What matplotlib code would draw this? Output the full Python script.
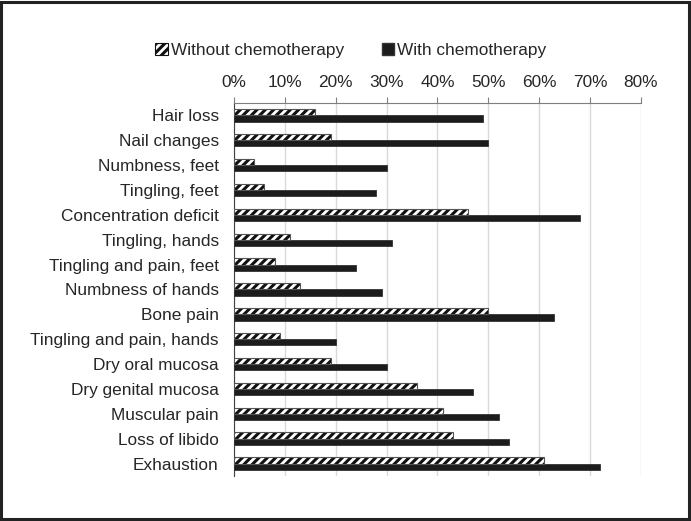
import matplotlib
matplotlib.use('Agg')
import matplotlib.pyplot as plt
import numpy as np
from matplotlib.patches import Rectangle, Patch
from matplotlib.ticker import PercentFormatter

plt.rcParams['font.family'] = ['Liberation Sans', 'DejaVu Sans']
plt.rcParams['font.size'] = 12.4
plt.rcParams['hatch.linewidth'] = 2.2
plt.rcParams['text.color'] = '#262626'

symptoms = ['Hair loss', 'Nail changes', 'Numbness, feet', 'Tingling, feet',
            'Concentration deficit', 'Tingling, hands', 'Tingling and pain, feet',
            'Numbness of hands', 'Bone pain', 'Tingling and pain, hands',
            'Dry oral mucosa', 'Dry genital mucosa', 'Muscular pain',
            'Loss of libido', 'Exhaustion']
without_chemo = [16, 19, 4, 6, 46, 11, 8, 13, 50, 9, 19, 36, 41, 43, 61]
with_chemo = [49, 50, 30, 28, 68, 31, 24, 29, 63, 20, 30, 47, 52, 54, 72]

fig = plt.figure(figsize=(6.91, 5.21), dpi=100)
ax = fig.add_axes([0.3386, 0.0864, 0.589, 0.716])

y = np.arange(len(symptoms))
h = 0.25
ax.barh(y - h/2, without_chemo, height=h, color='white', edgecolor='#111111',
        hatch='////', linewidth=0, zorder=3)
ax.barh(y - h/2, without_chemo, height=h, color='none', edgecolor='#555555',
        linewidth=0.8, zorder=4)
ax.barh(y + h/2, with_chemo, height=h, color='#1c1c1c', edgecolor='#333333',
        linewidth=0.6, zorder=3)

ax.set_xlim(0, 80)
ax.set_ylim(len(symptoms) - 0.5, -0.5)
ax.set_xticks(np.arange(0, 81, 10))
ax.xaxis.set_major_formatter(PercentFormatter(decimals=0))
ax.xaxis.tick_top()
ax.tick_params(axis='x', length=4, color='#7f7f7f', pad=5, labelcolor='#262626')
ax.set_yticks(y)
ax.set_yticklabels(symptoms)
ax.tick_params(axis='y', length=0, pad=11, labelcolor='#262626')
ax.grid(axis='x', color='#d9d9d9', linewidth=1, zorder=0)
ax.set_axisbelow(True)
for s in ['right', 'bottom']:
    ax.spines[s].set_visible(False)
ax.spines['top'].set_color('#7f7f7f')
ax.spines['left'].set_color('#404040')

handles = [Patch(facecolor='white', edgecolor='#111111', hatch='////', linewidth=0.8),
           Patch(facecolor='#1c1c1c', edgecolor='#333333')]
fig.legend(handles, ['Without chemotherapy', 'With chemotherapy'],
           loc='center', bbox_to_anchor=(0.508, 0.903), ncol=2, frameon=False,
           handlelength=0.7, handleheight=0.7, handletextpad=0.2,
           columnspacing=2.2)

fig.patches.append(Rectangle((0.002, 0.004), 0.995, 0.993, transform=fig.transFigure,
                             fill=False, edgecolor='#222222', linewidth=2.2))

fig.savefig('out.png', dpi=100)
